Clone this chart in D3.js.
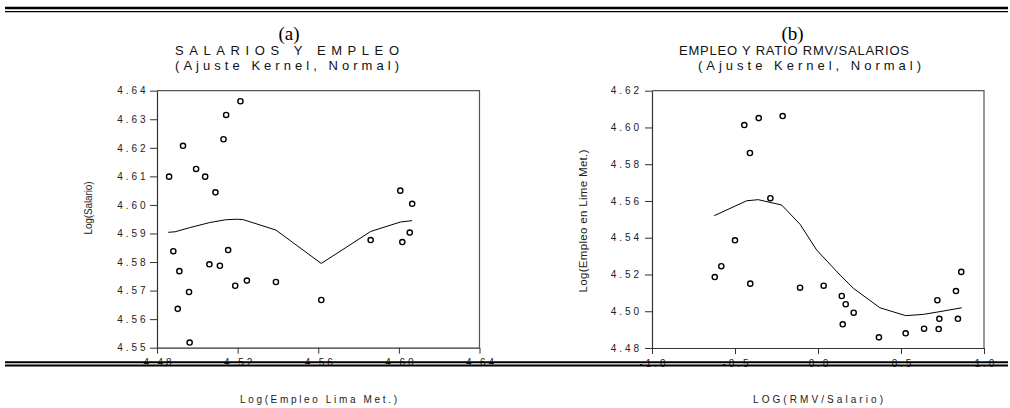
<!DOCTYPE html>
<html><head><meta charset="utf-8">
<script src="https://cdn.jsdelivr.net/npm/d3@7"></script>
<style>body{margin:0;background:#fff}svg{display:block}</style>
</head><body>
<svg id="c" width="1010" height="408"></svg>
<script>
// ---------- Panel (a) data ----------
const empleoA = [4.4860,4.4929,4.4994,4.5039,4.5090,4.5130,4.5143,4.5214,
                 4.4881,4.4911,4.4903,4.4959,4.4962,4.5060,4.5112,4.5153,4.5188,4.5246,4.5390,
                 4.5615,4.5860,4.6007,4.6066,4.6054,4.6017];
const salarioA = [4.6099,4.6207,4.6126,4.6099,4.6044,4.6230,4.6315,4.6363,
                  4.5838,4.5768,4.5636,4.5695,4.5518,4.5792,4.5787,4.5842,4.5717,4.5735,4.5730,
                  4.5667,4.5877,4.6050,4.6004,4.5903,4.5870];
const kernelAx = [4.4856,4.4890,4.4960,4.5060,4.5140,4.5200,4.5230,4.5390,4.5615,4.5860,4.6007,4.6066];
const kernelAy = [4.5904,4.5906,4.5920,4.5938,4.5948,4.5950,4.5948,4.5912,4.5795,4.5907,4.5940,4.5945];
const xTicksA = [4.48,4.52,4.56,4.60,4.64];
const yTicksA = [4.55,4.56,4.57,4.58,4.59,4.60,4.61,4.62,4.63,4.64];

// ---------- Panel (b) data ----------
const ratioB  = [-0.444,-0.357,-0.213,-0.410,-0.287,
                 -0.500,-0.5825,-0.622,-0.408,
                 -0.108,0.034,0.143,0.167,0.215,0.149,0.367,0.528,0.639,0.727,0.731,0.719,0.843,0.831,0.863];
const empleoB = [4.6013,4.6051,4.6062,4.5861,4.5615,
                 4.5386,4.5245,4.5186,4.5150,
                 4.5128,4.5139,4.5083,4.5038,4.4992,4.4929,4.4858,4.4880,4.4905,4.4903,4.4959,4.5060,4.4959,4.5110,4.5214];
const kernelBx = [-0.625,-0.430,-0.360,-0.219,-0.108,-0.008,0.133,0.213,0.373,0.528,0.635,0.735,0.866];
const kernelBy = [4.5520,4.5601,4.5607,4.5578,4.5473,4.5333,4.5197,4.5125,4.5019,4.4976,4.4983,4.4998,4.5019];
const xTicksB = [-1.0,-0.5,0.0,0.5,1.0];
const yTicksB = [4.48,4.50,4.52,4.54,4.56,4.58,4.60,4.62];

const svg = d3.select('#c');
svg.append('rect').attr('width',1010).attr('height',408).attr('fill','#fff');

const SANS = "Arial, 'Liberation Sans', sans-serif";
const LS = 2.9;

function panel(cfg){
  const x = d3.scaleLinear().domain(cfg.xDom).range(cfg.xRange);
  const y = d3.scaleLinear().domain(cfg.yDom).range(cfg.yRange);
  const g = svg.append('g');
  const x0 = cfg.xRange[0], x1 = cfg.xRange[1], yb = cfg.yRange[0], yt = cfg.yRange[1];

  // frame (top/right)
  g.append('path').attr('d',`M${x0},${yt}H${x1}V${yb}`)
    .attr('fill','none').attr('stroke','#555').attr('stroke-width',1.2);

  const yAxis = d3.axisLeft(y).tickValues(cfg.yTicks).tickFormat(cfg.yFmt)
    .tickSize(7).tickSizeOuter(0).tickPadding(cfg.yPad);
  const ya = g.append('g').attr('transform',`translate(${x0},0)`).call(yAxis);
  const xAxis = d3.axisBottom(x).tickValues(cfg.xTicks).tickFormat(cfg.xFmt)
    .tickSize(6).tickSizeOuter(0).tickPadding(5.5);
  const xa = g.append('g').attr('transform',`translate(0,${yb})`).call(xAxis);
  [ya,xa].forEach(a=>{
    a.select('.domain').attr('stroke','#333').attr('stroke-width',1.2);
    a.selectAll('.tick line').attr('stroke','#333').attr('stroke-width',1);
    a.selectAll('.tick text').attr('fill','#222').style('font-family',SANS)
      .style('font-size','10px').style('letter-spacing',LS+'px');
  });
  ya.selectAll('.tick text').attr('dx',LS);
  xa.selectAll('.tick text').attr('dx',LS/2);

  // kernel line
  const pts = cfg.kx.map((v,i)=>[v,cfg.ky[i]]);
  g.append('path').datum(pts)
    .attr('d',d3.line().x(d=>x(d[0])).y(d=>y(d[1])))
    .attr('fill','none').attr('stroke','#000').attr('stroke-width',1);

  // points
  g.selectAll('circle.p').data(cfg.px.map((v,i)=>[v,cfg.py[i]])).join('circle')
    .attr('class','p').attr('cx',d=>x(d[0])).attr('cy',d=>y(d[1])).attr('r',2.6)
    .attr('fill','#fff').attr('stroke','#000').attr('stroke-width',1.4);

  // titles
  g.append('text').attr('x',cfg.tCx).attr('y',39.5).attr('text-anchor','middle')
    .style('font-family',"'Times New Roman','Liberation Serif',serif").style('font-size','19px')
    .attr('fill','#000').text(cfg.letter);
  g.append('text').attr('x',cfg.t1Cx).attr('y',55).attr('text-anchor','middle')
    .style('font-family',SANS).style('font-size','13px').attr('fill','#111')
    .attr('textLength',cfg.t1W).attr('lengthAdjust','spacing').text(cfg.title1);
  g.append('text').attr('x',cfg.t2Cx).attr('y',69.5).attr('text-anchor','middle')
    .style('font-family',SANS).style('font-size','13px').attr('fill','#111')
    .attr('textLength',cfg.t2W).attr('lengthAdjust','spacing').text(cfg.title2);

  // axis labels
  g.append('text').attr('x',cfg.xlCx).attr('y',403).attr('text-anchor','middle')
    .style('font-family',SANS).style('font-size','10px').attr('fill','#222')
    .attr('textLength',cfg.xlW).attr('lengthAdjust','spacing').text(cfg.xLabel);
  g.append('text').attr('transform',`translate(${cfg.ylX},${cfg.ylY}) rotate(-90)`)
    .attr('text-anchor','middle').attr('dy','0.35em')
    .style('font-family',SANS).style('font-size',cfg.ylFs+'px').attr('fill','#222')
    .attr('textLength',cfg.ylW).attr('lengthAdjust','spacing').text(cfg.yLabel);
}

panel({
  xDom:[4.48,4.64], xRange:[157,479.5], yDom:[4.55,4.64], yRange:[347.7,90.7],
  xTicks:xTicksA, yTicks:yTicksA, xFmt:d=>d.toFixed(2), yFmt:d=>d.toFixed(2), yPad:4.5,
  kx:kernelAx, ky:kernelAy, px:empleoA, py:salarioA,
  letter:'(a)', tCx:289, title1:'SALARIOS Y EMPLEO', t1Cx:287, t1W:224,
  title2:'(Ajuste Kernel, Normal)', t2Cx:287, t2W:224,
  xLabel:'Log(Empleo Lima Met.)', xlCx:318.5, xlW:157,
  yLabel:'Log(Salario)', ylX:88, ylY:208, ylW:53, ylFs:10
});
panel({
  xDom:[-1,1], xRange:[652,984], yDom:[4.48,4.62], yRange:[348,90.7],
  xTicks:xTicksB, yTicks:yTicksB, xFmt:d=>d.toFixed(1), yFmt:d=>d.toFixed(2), yPad:6,
  kx:kernelBx, ky:kernelBy, px:ratioB, py:empleoB,
  letter:'(b)', tCx:792.5, title1:'EMPLEO Y RATIO RMV/SALARIOS', t1Cx:794, t1W:230,
  title2:'(Ajuste Kernel, Normal)', t2Cx:809.5, t2W:223,
  xLabel:'LOG(RMV/Salario)', xlCx:818, xlW:130,
  yLabel:'Log(Empleo en Lime Met.)', ylX:583, ylY:221, ylW:143, ylFs:11.5
});

// decorative double rules (top and bottom)
const rules = [[8,2.7],[11.7,1.3],[362.2,2],[365.5,2]];
svg.append('g').selectAll('line').data(rules).join('line')
  .attr('x1',5).attr('x2',1008).attr('y1',d=>d[0]).attr('y2',d=>d[0])
  .attr('stroke','#000').attr('stroke-width',d=>d[1]);
</script>
</body></html>
